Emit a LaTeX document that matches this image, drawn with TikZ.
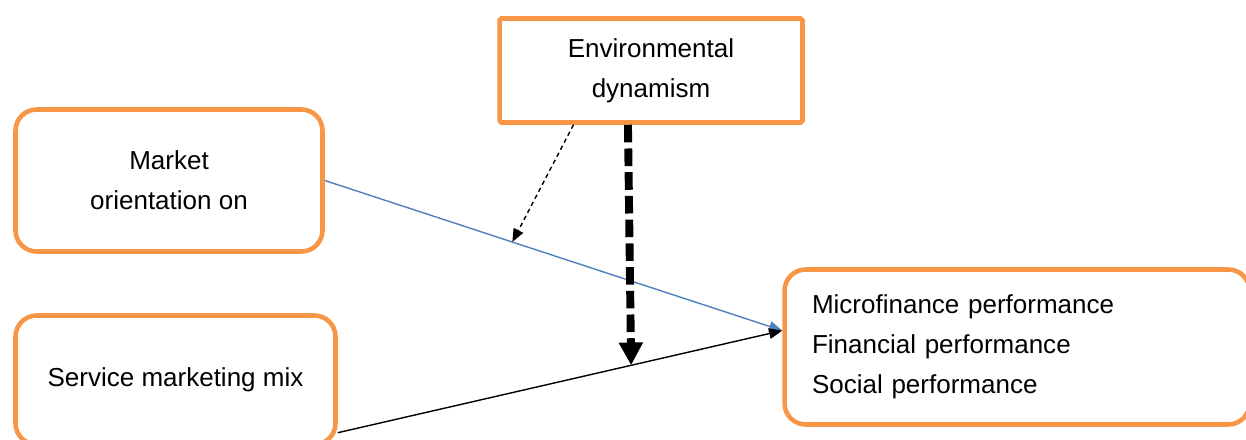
\documentclass[tikz,border=0pt]{standalone}
\usepackage{fontspec}
\setmainfont{Liberation Sans}
\usepackage{tikz}
\usetikzlibrary{arrows.meta}
\definecolor{boxorange}{HTML}{F79646}
\definecolor{lineblue}{HTML}{4F81BD}

\begin{document}
\begin{tikzpicture}[x=0.02cm,y=-0.02cm,
    varbox/.style={draw=boxorange,line width=2.6pt,fill=white,inner sep=0pt,align=center,font=\fontsize{14.8}{22.7}\selectfont},
    roundbox/.style={varbox,rounded corners=12pt},
    thinarrow/.style={-{Triangle[length=7.5pt,width=6pt]},line width=0.8pt}]
                      \useasboundingbox (0,0) rectangle (1246,439);
                      \node (env) at (651,70.5) [varbox,rounded corners=1pt,minimum width=6.06cm,minimum height=2.08cm] {Environmental\\dynamism};
                      \node (mkt) at (169,180.5) [roundbox,minimum width=6.14cm,minimum height=2.84cm] {Market\\orientation on};
                      \node (smm) at (175.5,380) [roundbox,minimum width=6.4cm,minimum height=2.58cm] {Service marketing mix};
                      \node (perf) at (1017,347) [roundbox,align=left,text width=8.2cm,inner xsep=0.55cm,minimum height=3.1cm] {Microfinance performance\\Financial performance\\Social performance};
                      \draw[thinarrow,lineblue] (mkt.east) -- coordinate[pos=0.41] (mod) (perf.176);
                      \draw[thinarrow,black] (smm.-18) -- coordinate[pos=0.66] (eff) (perf.176);
                      \draw[thinarrow,dash pattern=on 2.5pt off 2pt] (env.-145) -- (mod);
                      \draw[-{Triangle[length=13pt,width=13pt]},line width=4.5pt,dash pattern=on 10pt off 3.5pt] (env.-113) -- (eff);
                \end{tikzpicture}
\end{document}
